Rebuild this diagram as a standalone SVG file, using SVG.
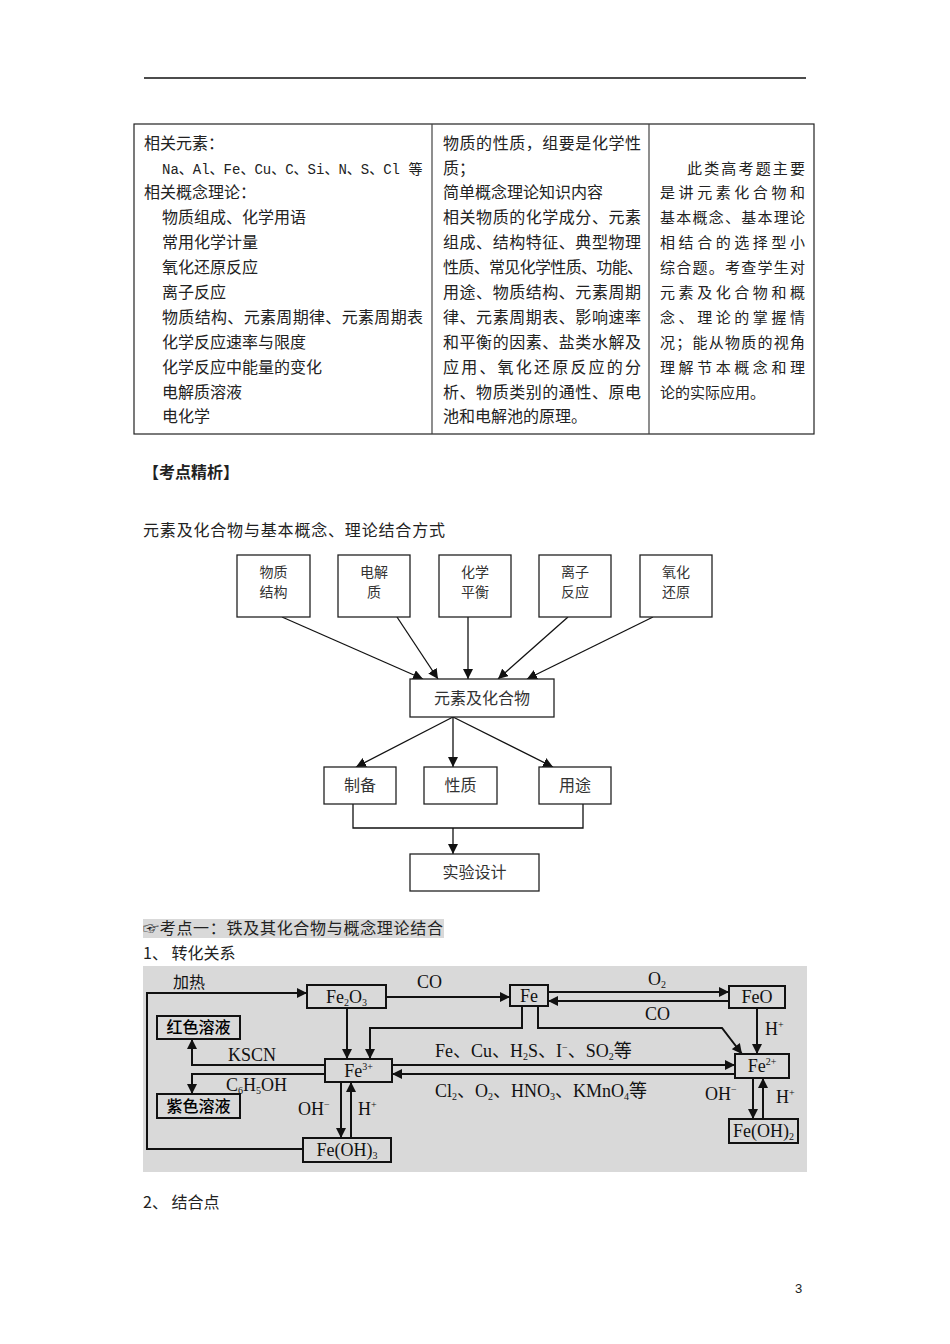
<svg xmlns="http://www.w3.org/2000/svg" width="950" height="1344" viewBox="0 0 950 1344">
<style>
.cn{font-family:"Noto Sans CJK SC","Noto Sans CJK JP",sans-serif;font-size:16px;fill:#222}
.tb{font-family:"Noto Sans CJK SC",sans-serif;font-size:16px;fill:#222}
.fb{fill:#fff;stroke:#222;stroke-width:1.3}
.fl{fill:none;stroke:#111;stroke-width:1.3}
.ft{font-family:"Noto Sans CJK SC",sans-serif;font-size:16px;fill:#333;text-anchor:middle}
.ft2{font-family:"Noto Sans CJK SC",sans-serif;font-size:14px;fill:#333;text-anchor:middle}
.ib{fill:none;stroke:#111;stroke-width:2}
.il{fill:none;stroke:#111;stroke-width:2}
.it{font-family:"Liberation Serif","Noto Sans CJK SC",serif;font-size:18px;fill:#111}
.itc{font-family:"Liberation Serif","Noto Sans CJK SC",serif;font-size:18px;fill:#111;text-anchor:middle}
.icn{font-family:"Noto Sans CJK SC",sans-serif;font-size:16px;fill:#000;text-anchor:middle;font-weight:500}
.sub{font-size:10px}
</style>
<defs>
<marker id="a1" viewBox="0 0 10 10" refX="10" refY="5" markerWidth="10" markerHeight="10" markerUnits="userSpaceOnUse" orient="auto"><path d="M0,0 L10,5 L0,10 z" fill="#111"/></marker>
<marker id="a2" viewBox="0 0 10 10" refX="10" refY="5" markerWidth="11" markerHeight="10" markerUnits="userSpaceOnUse" orient="auto"><path d="M0,0 L10,5 L0,10 z" fill="#111"/></marker>
</defs>
<rect width="950" height="1344" fill="#fff"/>
<line x1="144" y1="78" x2="806" y2="78" stroke="#111" stroke-width="1.5"/>

<g id="table">
<rect x="134" y="124" width="680" height="310" fill="none" stroke="#222" stroke-width="1.2"/>
<line x1="432" y1="124" x2="432" y2="434" stroke="#444" stroke-width="1.2"/>
<line x1="649" y1="124" x2="649" y2="434" stroke="#444" stroke-width="1.2"/>
<g class="tb">
<text x="144" y="149">相关元素：</text>
<text x="162" y="174" style="font-family:'Liberation Mono','Noto Sans CJK SC',monospace;font-size:14px">Na、Al、Fe、Cu、C、Si、N、S、Cl 等</text>
<text x="144" y="198">相关概念理论：</text>
<text x="162" y="223">物质组成、化学用语</text>
<text x="162" y="248">常用化学计量</text>
<text x="162" y="273">氧化还原反应</text>
<text x="162" y="298">离子反应</text>
<text x="162" y="323" textLength="261">物质结构、元素周期律、元素周期表</text>
<text x="162" y="348">化学反应速率与限度</text>
<text x="162" y="373">化学反应中能量的变化</text>
<text x="162" y="398">电解质溶液</text>
<text x="162" y="422">电化学</text>

<text x="443" y="149" textLength="198">物质的性质，组要是化学性</text>
<text x="443" y="174">质；</text>
<text x="443" y="198">简单概念理论知识内容</text>
<text x="443" y="223" textLength="198">相关物质的化学成分、元素</text>
<text x="443" y="248" textLength="198">组成、结构特征、典型物理</text>
<text x="443" y="273" textLength="200">性质、常见化学性质、功能、</text>
<text x="443" y="298" textLength="198">用途、物质结构、元素周期</text>
<text x="443" y="323" textLength="198">律、元素周期表、影响速率</text>
<text x="443" y="348" textLength="198">和平衡的因素、盐类水解及</text>
<text x="443" y="373" textLength="198">应用、氧化还原反应的分</text>
<text x="443" y="398" textLength="198">析、物质类别的通性、原电</text>
<text x="443" y="422">池和电解池的原理。</text>

<g style="font-size:15px">
<text x="687" y="174" textLength="118">此类高考题主要</text>
<text x="660" y="198" textLength="145">是讲元素化合物和</text>
<text x="660" y="223" textLength="145">基本概念、基本理论</text>
<text x="660" y="248" textLength="145">相结合的选择型小</text>
<text x="660" y="273" textLength="145">综合题。考查学生对</text>
<text x="660" y="298" textLength="145">元素及化合物和概</text>
<text x="660" y="323" textLength="145">念、理论的掌握情</text>
<text x="660" y="348" textLength="145">况；能从物质的视角</text>
<text x="660" y="373" textLength="145">理解节本概念和理</text>
<text x="660" y="398">论的实际应用。</text>
</g>
</g>
</g>

<text x="143" y="478" class="cn" style="font-weight:bold">【考点精析】</text>
<text x="143" y="536" class="cn" textLength="302">元素及化合物与基本概念、理论结合方式</text>

<g id="flow-connectors">
<line class="fl" x1="282" y1="617" x2="423" y2="679" marker-end="url(#a1)"/>
<line class="fl" x1="397" y1="617" x2="438" y2="679" marker-end="url(#a1)"/>
<line class="fl" x1="468" y1="617" x2="468" y2="679" marker-end="url(#a1)"/>
<line class="fl" x1="568" y1="617" x2="498" y2="679" marker-end="url(#a1)"/>
<line class="fl" x1="653" y1="617" x2="527" y2="679" marker-end="url(#a1)"/>
<line class="fl" x1="453" y1="717" x2="356" y2="767" marker-end="url(#a1)"/>
<line class="fl" x1="453" y1="717" x2="453" y2="767" marker-end="url(#a1)"/>
<line class="fl" x1="453" y1="717" x2="553" y2="767" marker-end="url(#a1)"/>
<path class="fl" d="M353,804 V828 H583 V804"/>
<line class="fl" x1="453" y1="828" x2="453" y2="854" marker-end="url(#a1)"/>
</g>
<g id="n-wzjg"><rect class="fb" x="237" y="555" width="73" height="62"/><text class="ft2" x="273.5" y="576.5">物质</text><text class="ft2" x="273.5" y="597">结构</text></g>
<g id="n-djz"><rect class="fb" x="338" y="555" width="72" height="62"/><text class="ft2" x="374" y="576.5">电解</text><text class="ft2" x="374" y="597">质</text></g>
<g id="n-hxph"><rect class="fb" x="439" y="555" width="72" height="62"/><text class="ft2" x="475" y="576.5">化学</text><text class="ft2" x="475" y="597">平衡</text></g>
<g id="n-lzfy"><rect class="fb" x="539" y="555" width="72" height="62"/><text class="ft2" x="575" y="576.5">离子</text><text class="ft2" x="575" y="597">反应</text></g>
<g id="n-yhhy"><rect class="fb" x="640" y="555" width="72" height="62"/><text class="ft2" x="676" y="576.5">氧化</text><text class="ft2" x="676" y="597">还原</text></g>
<g id="n-ysjhhw"><rect class="fb" x="410" y="679" width="144" height="38"/><text class="ft" x="482" y="704">元素及化合物</text></g>
<g id="n-zb"><rect class="fb" x="324" y="767" width="72" height="37"/><text class="ft" x="360" y="791">制备</text></g>
<g id="n-xz"><rect class="fb" x="424" y="767" width="73" height="37"/><text class="ft" x="460.5" y="791">性质</text></g>
<g id="n-yt"><rect class="fb" x="539" y="767" width="72" height="37"/><text class="ft" x="575" y="791">用途</text></g>
<g id="n-sysj"><rect class="fb" x="410" y="854" width="129" height="37"/><text class="ft" x="474.5" y="878">实验设计</text></g>

<rect x="143" y="919" width="301" height="19" fill="#d9d9d9"/>
<text x="143" y="934" class="cn" textLength="300" style="font-family:'Noto Sans CJK SC','DejaVu Sans',sans-serif">☞考点一：铁及其化合物与概念理论结合</text>
<text x="143" y="959" class="cn">1、 转化关系</text>

<rect x="143" y="966" width="664" height="206" fill="#d9d9d9"/>
<g id="iron-connectors">
<path class="il" d="M303,1149 H147 V993 H307" marker-end="url(#a2)"/>
<path class="il" d="M386,997 H510" marker-end="url(#a2)"/>
<path class="il" d="M548,992 H729" marker-end="url(#a2)"/>
<path class="il" d="M729,1001 H548" marker-end="url(#a2)"/>
<path class="il" d="M347,1008 V1059" marker-end="url(#a2)"/>
<path class="il" d="M522,1006 V1028 H370 V1059" marker-end="url(#a2)"/>
<path class="il" d="M538,1006 V1028 H722 L742,1054" marker-end="url(#a2)"/>
<path class="il" d="M757,1008 V1054" marker-end="url(#a2)"/>
<path class="il" d="M392,1065 H735" marker-end="url(#a2)"/>
<path class="il" d="M735,1074 H392" marker-end="url(#a2)"/>
<path class="il" d="M325,1065 H192 V1039" marker-end="url(#a2)"/>
<path class="il" d="M325,1074 H192 V1094" marker-end="url(#a2)"/>
<path class="il" d="M341,1082 V1138" marker-end="url(#a2)"/>
<path class="il" d="M351,1138 V1082" marker-end="url(#a2)"/>
<path class="il" d="M753,1078 V1119" marker-end="url(#a2)"/>
<path class="il" d="M763,1119 V1078" marker-end="url(#a2)"/>
<text class="it" x="173" y="988" style="font-family:'Noto Sans CJK SC',sans-serif;font-size:16px">加热</text>
<text class="it" x="417" y="988">CO</text>
<text class="it" x="648" y="985">O<tspan class="sub" dy="3">2</tspan></text>
<text class="it" x="645" y="1020">CO</text>
<text class="it" x="765" y="1035">H<tspan class="sub" dy="-7">+</tspan></text>
<text class="it" x="435" y="1057">Fe、Cu、H<tspan class="sub" dy="3">2</tspan><tspan dy="-3">S、I</tspan><tspan class="sub" dy="-6">−</tspan><tspan dy="6">、SO</tspan><tspan class="sub" dy="3">2</tspan><tspan dy="-3">等</tspan></text>
<text class="it" x="435" y="1097">Cl<tspan class="sub" dy="3">2</tspan><tspan dy="-3">、O</tspan><tspan class="sub" dy="3">2</tspan><tspan dy="-3">、HNO</tspan><tspan class="sub" dy="3">3</tspan><tspan dy="-3">、KMnO</tspan><tspan class="sub" dy="3">4</tspan><tspan dy="-3">等</tspan></text>
<text class="it" x="228" y="1061">KSCN</text>
<text class="it" x="226" y="1091">C<tspan class="sub" dy="3">6</tspan><tspan dy="-3">H</tspan><tspan class="sub" dy="3">5</tspan><tspan dy="-3">OH</tspan></text>
<text class="it" x="298" y="1115">OH<tspan class="sub" dy="-7">−</tspan></text>
<text class="it" x="358" y="1115">H<tspan class="sub" dy="-7">+</tspan></text>
<text class="it" x="705" y="1100">OH<tspan class="sub" dy="-7">−</tspan></text>
<text class="it" x="776" y="1103">H<tspan class="sub" dy="-7">+</tspan></text>
</g>
<g id="n-fe2o3"><rect class="ib" x="307" y="985" width="79" height="23"/><text class="itc" x="346.5" y="1003">Fe<tspan class="sub" dy="3">2</tspan><tspan dy="-3">O</tspan><tspan class="sub" dy="3">3</tspan></text></g>
<g id="n-fe"><rect class="ib" x="510" y="985" width="38" height="21"/><text class="itc" x="529" y="1002">Fe</text></g>
<g id="n-feo"><rect class="ib" x="729" y="986" width="56" height="22"/><text class="itc" x="757" y="1003">FeO</text></g>
<g id="n-red"><rect class="ib" x="157" y="1016" width="83" height="23"/><text class="icn" x="198.5" y="1033">红色溶液</text></g>
<g id="n-purple"><rect class="ib" x="157" y="1094" width="83" height="24"/><text class="icn" x="198.5" y="1112">紫色溶液</text></g>
<g id="n-fe3"><rect class="ib" x="325" y="1059" width="67" height="23"/><text class="itc" x="358.5" y="1077">Fe<tspan class="sub" dy="-7">3+</tspan></text></g>
<g id="n-feoh3"><rect class="ib" x="303" y="1138" width="88" height="24"/><text class="itc" x="347" y="1156">Fe(OH)<tspan class="sub" dy="3">3</tspan></text></g>
<g id="n-fe2"><rect class="ib" x="735" y="1054" width="54" height="24"/><text class="itc" x="762" y="1072">Fe<tspan class="sub" dy="-7">2+</tspan></text></g>
<g id="n-feoh2"><rect class="ib" x="729" y="1119" width="69" height="24"/><text class="itc" x="763.5" y="1137">Fe(OH)<tspan class="sub" dy="3">2</tspan></text></g>

<text x="143" y="1208" class="cn">2、 结合点</text>
<text x="795" y="1293" style="font-family:'Liberation Sans',sans-serif;font-size:13px;fill:#222">3</text>
</svg>
